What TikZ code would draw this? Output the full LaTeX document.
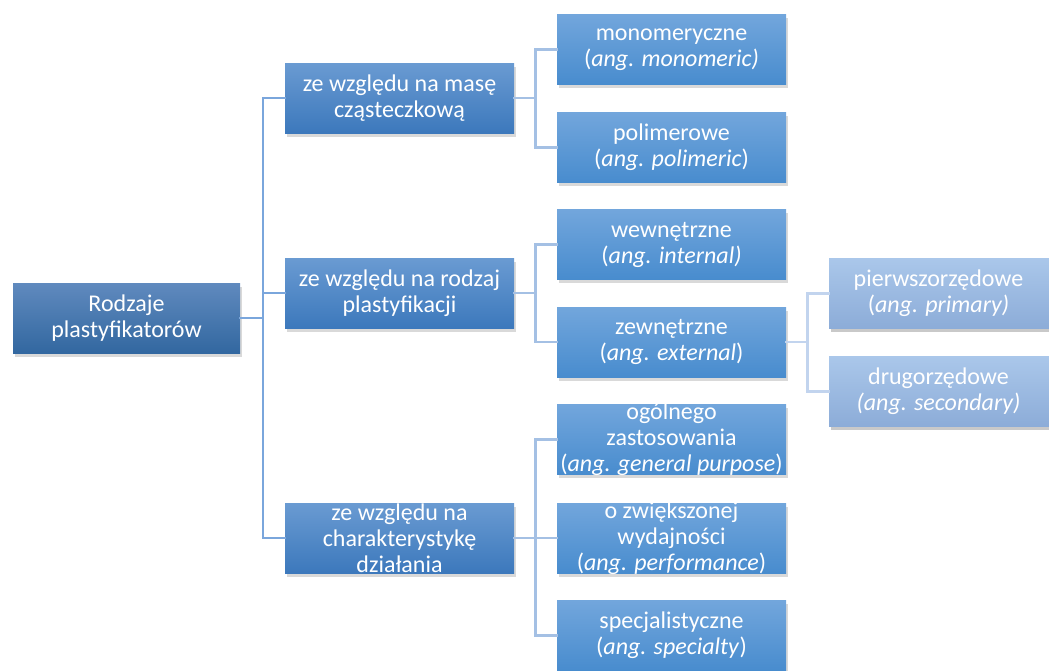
\documentclass[tikz,border=0pt]{standalone}
\usepackage{fontspec}
\setmainfont{Carlito}
\usetikzlibrary{shadows}

\begin{document}
\begin{tikzpicture}[x=1pt,y=-1pt,line cap=rect,
  box/.style={rectangle, minimum width=229pt, minimum height=70pt, inner sep=0pt,
    drop shadow={shadow xshift=1.5pt, shadow yshift=-3.5pt, opacity=0.3}},
  txt/.style={text=white, align=center, inner sep=0pt,
    font=\fontsize{24pt}{26pt}\selectfont},
  rootbox/.style={box, minimum width=227pt, top color=custcol_root_top, bottom color=custcol_root_bot},
  catbox/.style={box, top color=custcol_cat_top, bottom color=custcol_cat_bot},
  kindbox/.style={box, top color=custcol_kind_top, bottom color=custcol_kind_bot},
  subbox/.style={box, top color=custcol_sub_top, bottom color=custcol_sub_bot,
    drop shadow={shadow xshift=1.5pt, shadow yshift=-3.5pt, opacity=0.18}},
  trunk/.style={line width=2.5pt, custcol_trunk},
  twig/.style={line width=2.5pt, custcol_twig},
  leaf/.style={line width=2.5pt, custcol_leaf}]
\definecolor{custcol_root_top}{RGB}{96, 138, 190}
\definecolor{custcol_root_bot}{RGB}{50, 103, 160}
\definecolor{custcol_cat_top}{RGB}{106, 155, 210}
\definecolor{custcol_cat_bot}{RGB}{60, 120, 188}
\definecolor{custcol_kind_top}{RGB}{114, 166, 220}
\definecolor{custcol_kind_bot}{RGB}{72, 140, 206}
\definecolor{custcol_sub_top}{RGB}{170, 199, 234}
\definecolor{custcol_sub_bot}{RGB}{140, 172, 216}
\definecolor{custcol_trunk}{RGB}{122, 166, 220}
\definecolor{custcol_twig}{RGB}{164, 192, 228}
\definecolor{custcol_leaf}{RGB}{194, 212, 238}
\clip (0,0) rectangle (1049,670);
% root
\node[rootbox] (rodzaje) at (126.5,318) {};
\node[txt] (rodzajeT) at (rodzaje) {Rodzaje\\plastyfikatorów};
% categories
\node[catbox] (masa) at (399.5,98) {};
\node[txt] (masaT) at (masa) {ze względu na masę\\cząsteczkową};
\node[catbox] (rodzaj) at (399.5,293) {};
\node[txt] (rodzajT) at (rodzaj) {ze względu na rodzaj\\plastyfikacji};
\node[catbox] (charakt) at (399.5,538) {};
\node[txt] (charaktT) at (charakt) {ze względu na\\charakterystykę\\działania};
% kinds
\node[kindbox] (mono) at (671.5,49.5) {};
\node[txt] (monoT) at (mono) {monomeryczne\\(\textit{ang. monomeric)}};
\node[kindbox] (poli) at (671.5,147.5) {};
\node[txt] (poliT) at (poli) {polimerowe\\(\textit{ang. polimeric})};
\node[kindbox] (wew) at (671.5,244.5) {};
\node[txt] (wewT) at (wew) {wewnętrzne\\(\textit{ang. internal)}};
\node[kindbox] (zew) at (671.5,342) {};
\node[txt] (zewT) at (zew) {zewnętrzne\\(\textit{ang. external})};
\node[kindbox] (ogol) at (671.5,439.5) {};
\node[txt] (ogolT) at (ogol) {ogólnego\\zastosowania\\(\textit{ang. general purpose})};
\node[kindbox] (wyd) at (671.5,538) {};
\node[txt] (wydT) at (wyd) {o zwiększonej\\wydajności\\(\textit{ang. performance})};
\node[kindbox] (spec) at (671.5,635.5) {};
\node[txt] (specT) at (spec) {specjalistyczne\\(\textit{ang. specialty})};
% sub kinds
\node[subbox] (pierw) at (943.5,293.5) {};
\node[txt] (pierwT) at (938.5,293.5) {pierwszorzędowe\\(\textit{ang. primary)}};
\node[subbox] (drug) at (943.5,391.5) {};
\node[txt] (drugT) at (938.5,391.5) {drugorzędowe\\\textit{(ang. secondary)}};
% connectors
\draw [trunk] (rodzaje.east) -- ++(23,0) |- (masa.west) ;
\draw [trunk] (rodzaje.east) -- ++(23,0) |- (rodzaj.west) ;
\draw [trunk] (rodzaje.east) -- ++(23,0) |- (charakt.west) ;
\draw [twig] (masa.east) -- ++(21.5,0) |- (mono.west) ;
\draw [twig] (masa.east) -- ++(21.5,0) |- (poli.west) ;
\draw [twig] (rodzaj.east) -- ++(21.5,0) |- (wew.west) ;
\draw [twig] (rodzaj.east) -- ++(21.5,0) |- (zew.west) ;
\draw [twig] (charakt.east) -- ++(21.5,0) |- (ogol.west) ;
\draw [twig] (charakt.east) -- (wyd.west) ;
\draw [twig] (charakt.east) -- ++(21.5,0) |- (spec.west) ;
\draw [leaf] (zew.east) -- ++(21.5,0) |- (pierw.west) ;
\draw [leaf] (zew.east) -- ++(21.5,0) |- (drug.west) ;
\end{tikzpicture}
\end{document}
